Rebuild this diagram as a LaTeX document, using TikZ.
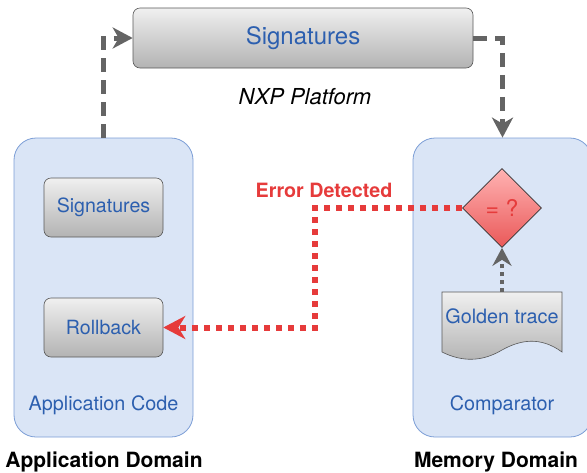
\documentclass[tikz,border=0pt]{standalone}
\usepackage{fontspec}
\setmainfont{TeX Gyre Heros}
\usepackage{xcolor}
\usetikzlibrary{positioning}
\usetikzlibrary{shapes.geometric}
\usetikzlibrary{arrows.meta}
\definecolor{txtblue}{HTML}{2C5FAF}
\definecolor{domfill}{HTML}{DAE5F6}
\definecolor{domline}{HTML}{7C9ED6}
\definecolor{errred}{HTML}{E63B3B}
\definecolor{linegray}{HTML}{646464}
\newcommand\fsize[1]{\fontsize{#1}{#1}\selectfont}

\begin{document}
\begin{tikzpicture}[x=1pt, y=-1pt,
    domainbox/.style={draw=domline, fill=domfill, line width=0.8pt, rounded corners=22pt,
                      minimum width=179pt, minimum height=299pt},
    graybox/.style={draw=black!65, line width=0.6pt, rounded corners=7pt,
                    top color=white!94!black, bottom color=black!30, text=txtblue},
    bluetext/.style={text=txtblue, font=\fsize{19.8}},
    graydash/.style={draw=linegray, line width=5pt, dash pattern=on 14pt off 8pt,
                     -{Stealth[length=20pt,width=21pt,inset=6pt]}},
    reddots/.style={draw=errred, line width=6pt, dash pattern=on 6pt off 6pt,
                    -{Stealth[length=22pt,width=23pt,inset=7pt,fill=errred]}}]
  \useasboundingbox (0,0) rectangle (587,472);
  % domains
  \node[domainbox] (appdom) at (103.5,287.5) {};
  \node[domainbox] (memdom) at (502.5,287.5) {};
  % platform
  \node[graybox, minimum width=340pt, minimum height=60pt, font=\fsize{24}] (platsig) at (303,38) {Signatures};
  \node[font=\fsize{22}\itshape] (nxp) at (305,97) {NXP Platform};
  % application code
  \node[graybox, minimum width=119pt, minimum height=59pt, font=\fsize{19.6}] (appsig) at (103.5,207.5) {Signatures};
  \node[graybox, minimum width=119pt, minimum height=59pt, font=\fsize{19.6}] (rollback) at (103.5,327.5) {Rollback};
  \node[bluetext] (appcode) at (103.5,405) {Application Code};
  \node[font=\fsize{21}\bfseries] (applabel) at (104,462) {Application Domain};
  % comparator
  \node[diamond, aspect=1, draw=black!80, line width=0.6pt, inner sep=0pt,
        minimum width=79pt, minimum height=79pt, top color=red!30, bottom color=errred!85,
        text=errred, font=\fsize{23}] (cmp) at (502,208) {= ?};
  \shade[top color=white!94!black, bottom color=black!30, draw=black!65, line width=0.6pt]
    (442,292) -- (562,292) -- (562,352)
    .. controls (540,336) and (520,340) .. (502,350)
    .. controls (482,362) and (462,362) .. (442,352) -- cycle;
  \node[bluetext] (golden) at (502,316) {Golden trace};
  \coordinate (goldtop) at (502,292);
  \node[bluetext] (comparator) at (502,405) {Comparator};
  \node[font=\fsize{21}\bfseries] (memlabel) at (496,462) {Memory Domain};
  % connectors
  \draw[graydash] (appdom.north) |- (platsig.west);
  \draw[graydash] (platsig.east) -| (memdom.north);
  \draw[draw=linegray, line width=4pt, dash pattern=on 4pt off 4pt,
        -{Stealth[length=18pt,width=19pt,inset=6pt]}] (goldtop) -- (cmp.south);
  \coordinate (bend) at (315,208);
  \draw[reddots] (cmp.west) -- (bend) |- (rollback.east);
  \node[text=errred, font=\fsize{19.7}\bfseries] (errlabel) at (324,190) {Error Detected};
\end{tikzpicture}
\end{document}
